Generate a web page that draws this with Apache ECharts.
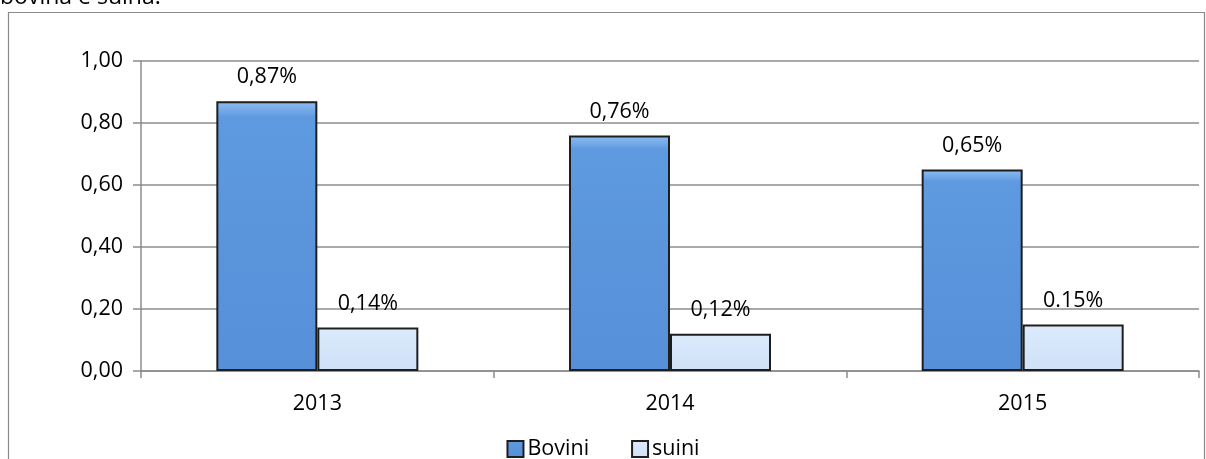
<!DOCTYPE html>
<html>
<head>
<meta charset="utf-8">
<script src="https://cdn.jsdelivr.net/npm/echarts@6/dist/echarts.min.js"></script>
<style>
html,body{margin:0;padding:0;background:#fff;}
#chart{width:1206px;height:459px;}
</style>
</head>
<body>
<div id="chart"></div>
<script>
const categories = ['2013', '2014', '2015'];
const seriesNames = ['Bovini', 'suini'];
const boviniValues = [0.87, 0.76, 0.65];
const suiniValues = [0.14, 0.12, 0.15];
const boviniLabels = ['0,87%', '0,76%', '0,65%'];
const suiniLabels = ['0,14%', '0,12%', '0.15%'];
const yTicks = [0, 0.2, 0.4, 0.6, 0.8, 1.0];

const FONT = 'Open Sans';
const FS = 21.5;

const chart = echarts.init(document.getElementById('chart'));

function grad(top, mid, bottom) {
  return new echarts.graphic.LinearGradient(0, 0, 0, 1, [
    {offset: 0, color: top},
    {offset: 0.06, color: mid},
    {offset: 1, color: bottom}
  ]);
}

chart.setOption({
  animation: false,
  textStyle: {fontFamily: FONT},
  graphic: [
    {type: 'rect', shape: {x: 8.5, y: 12.5, width: 1196, height: 470},
     style: {fill: 'none', stroke: '#8a8a8a', lineWidth: 1.2}},
    {type: 'text', left: 0, top: -14,
     style: {text: 'bovina e suina.', fontFamily: FONT, fontSize: 23, fill: '#000'}}
  ],
  grid: {left: 141, right: 7, top: 61, bottom: 88, containLabel: false},
  legend: {
    data: seriesNames,
    top: 433,
    left: 'center',
    icon: 'rect',
    itemWidth: 16,
    itemHeight: 16,
    itemGap: 42,
    textStyle: {fontFamily: FONT, fontSize: FS, color: '#000', padding: [0, 0, 0, -1]}
  },
  xAxis: {
    type: 'category',
    data: categories,
    axisLine: {lineStyle: {color: '#8c8c8c', width: 1.5}},
    axisTick: {show: true, length: 7, lineStyle: {color: '#8c8c8c', width: 1.5}},
    axisLabel: {fontFamily: FONT, fontSize: FS, color: '#000', margin: 22}
  },
  yAxis: {
    type: 'value',
    min: 0, max: 1, interval: 0.2,
    axisLine: {show: true, lineStyle: {color: '#8c8c8c', width: 1.5}},
    axisTick: {show: true, length: 8, lineStyle: {color: '#8c8c8c', width: 1.5}},
    splitLine: {lineStyle: {color: '#8c8c8c', width: 1.5}},
    axisLabel: {
      fontFamily: FONT, fontSize: FS, color: '#000', margin: 18,
      formatter: v => v.toFixed(2).replace('.', ',')
    }
  },
  series: [
    {
      name: seriesNames[0], type: 'bar', data: boviniValues,
      barWidth: 101, barGap: '0%',
      itemStyle: {color: grad('#8fbdf2', '#5e9ae0', '#5690d8'), borderColor: '#1e1e1e', borderWidth: 2},
      label: {show: true, position: 'top', distance: 13, fontFamily: FONT, fontSize: FS, color: '#000',
        formatter: p => boviniLabels[p.dataIndex]}
    },
    {
      name: seriesNames[1], type: 'bar', data: suiniValues,
      barWidth: 101, barGap: '0%',
      itemStyle: {color: grad('#ffffff', '#dbe9fb', '#cfe1f8'), borderColor: '#1e1e1e', borderWidth: 2},
      label: {show: true, position: 'top', distance: 13, fontFamily: FONT, fontSize: FS, color: '#000',
        formatter: p => suiniLabels[p.dataIndex]}
    }
  ]
});
</script>
</body>
</html>
